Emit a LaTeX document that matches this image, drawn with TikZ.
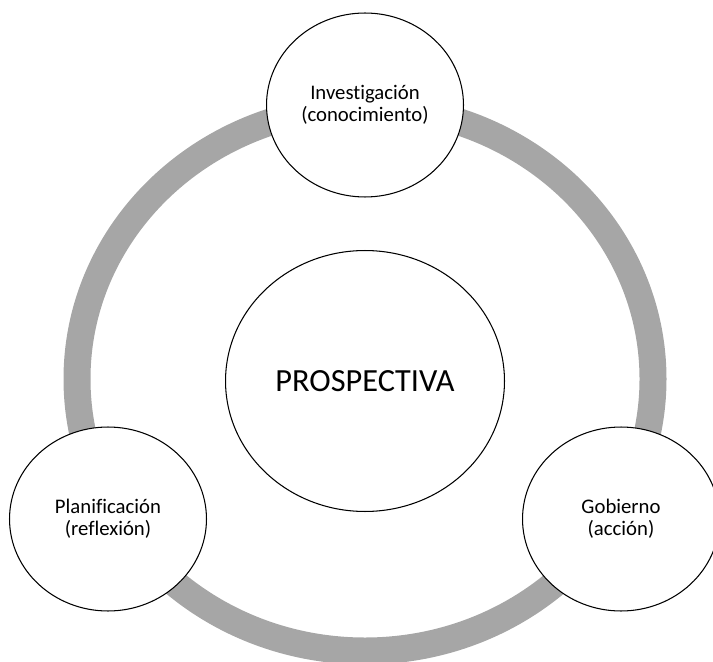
\documentclass[tikz,border=0pt]{standalone}
\usepackage{fontspec}
\setmainfont[Ligatures=NoCommon]{Carlito}
\usetikzlibrary{shapes.geometric}
\definecolor{ringgray}{RGB}{166,166,166}

\begin{document}
\begin{tikzpicture}[x=0.02cm, y=-0.02cm,
        centernode/.style={ellipse, draw=black, fill=white, line width=0.6pt, minimum width=5.58cm, minimum height=5.22cm, inner sep=0pt, font=\fontsize{18.4}{21}\selectfont},
        areanode/.style={ellipse, draw=black, fill=white, line width=0.6pt, minimum width=3.94cm, minimum height=3.68cm, inner sep=0pt, align=center, font=\fontsize{11.8}{12.5}\selectfont},
    ]
    \useasboundingbox (0,0) rectangle (713,662);
    \clip (0,0) rectangle (713,662);
    %Ring
    \draw[ringgray, line width=0.54cm] (365,379) ellipse [x radius=288, y radius=272];

    %Nodes
    \node[centernode](prosp) at (365,381) {PROSPECTIVA};
    \node[areanode](inv) at (365,105) {Investigación\\(conocimiento)};
    \node[areanode](plan) at (108,519) {Planificación\\(reflexión)};
    \node[areanode](gob) at (621,519) {Gobierno\\(acción)};
\end{tikzpicture}
\end{document}
